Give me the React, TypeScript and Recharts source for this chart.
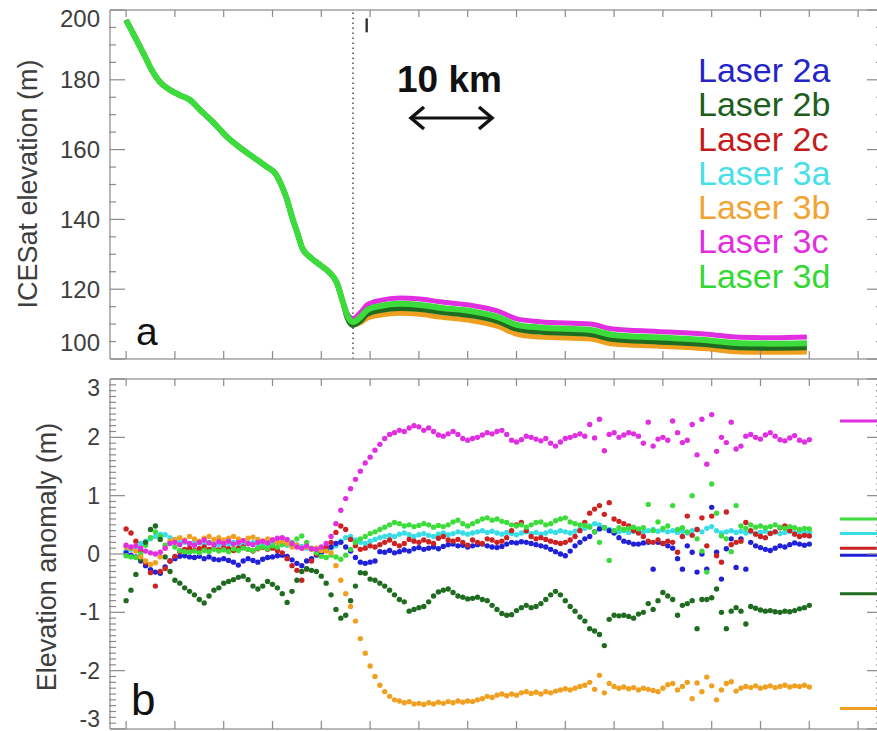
import React from 'react';
import {
  ComposedChart,
  Line,
  XAxis,
  YAxis,
  ReferenceLine,
  ScatterChart,
  Scatter,
  Legend,
} from 'recharts';

const FONT = '"Liberation Sans", Arial, Helvetica, sans-serif';

// ---------- series meta ----------
const laserNames = ['Laser 2a', 'Laser 2b', 'Laser 2c', 'Laser 3a', 'Laser 3b', 'Laser 3c', 'Laser 3d'];
const laserKeys = ['l2a', 'l2b', 'l2c', 'l3a', 'l3b', 'l3c', 'l3d'];
const laserColors = ['#2020d8', '#1f6b1f', '#cc2222', '#38dde6', '#f0a020', '#e02ee0', '#3cdc3c'];
const legendColors = ['#2424c8', '#1d5e1d', '#c41c1c', '#48e0e8', '#f0a434', '#e02ee0', '#34d834'];

// ---------- axes ----------
const X_DOMAIN: [number, number] = [-3.3, 154.9];
const xTicks = [0, 10, 20, 30, 40, 50, 60, 70, 80, 90, 100, 110, 120, 130, 140, 150];
const elevTicks = [100, 120, 140, 160, 180, 200];
const elevMinorTicks = [105, 110, 115, 125, 130, 135, 145, 150, 155, 165, 170, 175, 185, 190, 195];
const anomTicks = [-3, -2, -1, 0, 1, 2, 3];
const anomMinorTicks = Array.from({ length: 61 }, (_, i) => (i - 30) / 10).filter(
  (v) => Math.abs(v - Math.round(v)) > 1e-6
);

// ---------- panel a: ICESat elevation profile (along-track sample index) ----------
const profileX = [
  0, 1.4, 3.5, 5.5, 6.9, 9.0, 11.0, 13.1, 15.2, 17.8, 20.7, 23.4, 26.0, 28.9, 30.5, 32.0, 33.0, 34.0,
  35.1, 36.1, 37.7, 39.8, 41.8, 43.2, 44.3, 45.3, 46.5, 48.0, 49.4, 52.1, 56.1, 60.2, 64.3, 71.1, 76.0,
  80.1, 84.8, 95.1, 99.8, 108.8, 119.1, 125.8, 132.6, 139.5,
];
const upperProfile = [
  197.1, 193.4, 187.7, 182.2, 179.4, 177.1, 175.6, 174.2, 171.3, 167.9, 163.6, 160.5, 157.9, 155.0,
  153.3, 149.3, 145.6, 140.7, 136.1, 131.8, 129.2, 126.9, 124.6, 121.8, 116.9,
];
const elev2a = [...upperProfile, 112.4, 110.4, 111.5, 113.5, 114.8, 115.3, 115.0, 114.2, 113.1, 111.6, 109.3, 108.5, 107.9, 106.4, 105.7, 104.9, 104.0, 103.9, 104.1];
const elev2b = [...upperProfile, 111.8, 109.6, 110.8, 112.8, 113.9, 114.5, 114.2, 113.4, 112.3, 110.8, 108.5, 107.7, 107.0, 105.6, 104.9, 104.1, 103.2, 103.1, 103.2];
const elev2c = [...upperProfile, 112.7, 110.8, 111.7, 113.6, 114.9, 115.5, 115.2, 114.4, 113.3, 111.8, 109.5, 108.7, 108.0, 106.6, 105.9, 105.1, 104.2, 104.1, 104.2];
const elev3a = [...upperProfile, 112.5, 110.5, 111.9, 113.8, 115.0, 115.6, 115.3, 114.5, 113.4, 111.9, 109.6, 108.8, 108.1, 106.7, 106.0, 105.2, 104.3, 104.2, 104.3];
const elev3b = [...upperProfile, 112.3, 109.9, 110.4, 111.7, 112.6, 113.1, 112.8, 112.0, 110.9, 109.4, 107.1, 106.3, 105.7, 104.3, 103.7, 102.9, 102.0, 101.9, 102.0];
const elev3c = [...upperProfile, 113.0, 111.6, 113.3, 115.5, 116.8, 117.5, 117.2, 116.4, 115.3, 113.8, 111.5, 110.7, 110.0, 108.6, 107.9, 107.1, 106.2, 106.1, 106.3];
const elev3d = [...upperProfile, 112.6, 110.6, 112.0, 114.0, 115.2, 115.8, 115.5, 114.7, 113.6, 112.1, 109.8, 109.0, 108.3, 106.9, 106.2, 105.4, 104.5, 104.4, 104.5];

// ---------- panel b: elevation anomaly per sample ----------
const anom2a = [
  0.02, -0.02, -0.05, -0.12, -0.20, -0.27, -0.31, -0.33, -0.22, -0.12,
  -0.08, -0.04, -0.03, -0.05, -0.06, -0.04, -0.08, -0.05, -0.09, -0.10,
  -0.08, -0.11, -0.14, -0.19, -0.12, -0.08, -0.11, -0.14, -0.09, -0.06,
  -0.05, -0.03, -0.02, -0.04, -0.10, -0.16, -0.20, -0.12, -0.08, -0.02,
  0.02, 0.06, 0.12, 0.18, 0.20, 0.12, 0.05, -0.06, -0.14, -0.16,
  -0.14, -0.12, 0.04, 0.03, 0.06, 0.02, 0.04, 0.07, 0.05, 0.09,
  0.11, 0.08, 0.10, 0.12, 0.09, 0.13, 0.16, 0.17, 0.14, 0.15,
  0.12, 0.14, 0.16, 0.17, 0.14, 0.12, 0.11, 0.13, 0.17, 0.20,
  0.19, 0.21, 0.20, 0.18, 0.16, 0.14, 0.12, 0.08, 0.04, 0.00,
  -0.03, 0.05, 0.14, 0.20, 0.26, 0.30, 0.38, 0.43, 0.45, 0.40,
  0.36, 0.28, 0.22, 0.20, 0.17, 0.17, 0.19, 0.20, -0.26, 0.20,
  0.18, 0.14, 0.10, -0.08, -0.26, 0.14, 0.03, -0.31, 0.00, -0.26,
  0.80, 0.03, -0.43, 0.09, 0.26, -0.23, 0.26, -0.26, 0.20, 0.14,
  0.11, 0.08, 0.06, 0.10, 0.14, 0.12, 0.16, 0.19, 0.17, 0.15, 0.17,
];
const anom2b = [
  -0.80, -0.62, -0.35, -0.10, 0.20, 0.42, 0.48, 0.25, -0.05, -0.30,
  -0.45, -0.50, -0.58, -0.64, -0.70, -0.78, -0.84, -0.72, -0.62, -0.58,
  -0.50, -0.47, -0.44, -0.40, -0.38, -0.44, -0.55, -0.60, -0.55, -0.47,
  -0.52, -0.58, -0.68, -0.83, -0.64, -0.45, -0.30, -0.25, -0.28, -0.30,
  -0.38, -0.50, -0.70, -0.95, -1.10, -1.05, -0.80, -0.55, -0.32, -0.33,
  -0.43, -0.45, -0.50, -0.55, -0.62, -0.70, -0.78, -0.82, -0.98, -0.95,
  -0.92, -0.90, -0.82, -0.72, -0.65, -0.62, -0.60, -0.66, -0.72, -0.74,
  -0.77, -0.76, -0.74, -0.78, -0.80, -0.88, -0.95, -1.02, -1.05, -1.04,
  -0.97, -0.92, -0.88, -0.92, -0.90, -0.85, -0.78, -0.70, -0.64, -0.70,
  -0.80, -0.90, -0.98, -1.08, -1.15, -1.28, -1.32, -1.38, -1.57, -1.12,
  -1.05, -1.06, -1.05, -1.07, -1.10, -1.03, -1.00, -0.85, -0.95, -0.80,
  -0.66, -0.72, -0.78, -1.05, -0.88, -0.85, -0.80, -1.28, -0.78, -0.78,
  -0.75, -0.60, -1.00, -1.28, -0.98, -0.92, -0.98, -1.20, -0.90, -0.93,
  -0.96, -0.98, -0.97, -0.99, -1.00, -0.98, -0.99, -0.97, -0.94, -0.92, -0.88,
];
const anom2c = [
  0.43, 0.36, 0.22, 0.05, -0.15, -0.32, -0.55, -0.30, -0.25, -0.12,
  -0.04, 0.04, 0.08, 0.10, 0.06, 0.09, 0.12, 0.08, 0.10, 0.07,
  0.11, 0.09, 0.06, 0.10, 0.12, 0.08, 0.05, 0.09, 0.11, 0.08,
  0.10, 0.06, 0.02, -0.08, -0.20, -0.28, -0.45, -0.26, -0.12, 0.00,
  0.08, 0.12, 0.20, 0.37, 0.48, 0.42, 0.25, 0.14, 0.08, 0.10,
  0.14, 0.12, 0.16, 0.20, 0.24, 0.18, 0.14, 0.18, 0.25, 0.22,
  0.20, 0.24, 0.21, 0.18, 0.27, 0.30, 0.24, 0.22, 0.25, 0.20,
  0.15, 0.24, 0.20, 0.18, 0.26, 0.24, 0.20, 0.22, 0.28, 0.40,
  0.50, 0.54, 0.40, 0.30, 0.26, 0.28, 0.25, 0.22, 0.20, 0.18,
  0.20, 0.24, 0.30, 0.40, 0.54, 0.70, 0.77, 0.83, 0.68, 0.88,
  0.60, 0.56, 0.52, 0.48, 0.40, 0.36, 0.30, 0.22, 0.20, 0.24,
  0.18, 0.22, 0.20, 0.03, 0.30, 0.65, 0.32, 0.42, 0.62, 0.14,
  0.65, -0.03, -0.14, 0.72, 0.16, 0.20, 0.22, 0.54, 0.40, 0.34,
  0.30, 0.28, 0.35, 0.38, 0.45, 0.48, 0.40, 0.34, 0.30, 0.32, 0.31,
];
const anom3a = [
  0.05, 0.08, 0.12, 0.18, 0.22, 0.26, 0.30, 0.34, 0.33, 0.28,
  0.24, 0.22, 0.20, 0.18, 0.21, 0.19, 0.17, 0.20, 0.18, 0.16,
  0.19, 0.17, 0.20, 0.18, 0.15, 0.18, 0.20, 0.17, 0.19, 0.16,
  0.18, 0.20, 0.17, 0.15, 0.14, 0.16, 0.13, 0.10, 0.08, 0.06,
  0.05, 0.08, 0.10, 0.14, 0.22, 0.28, 0.30, 0.24, 0.20, 0.18,
  0.22, 0.25, 0.28, 0.30, 0.32, 0.30, 0.34, 0.36, 0.33, 0.30,
  0.33, 0.35, 0.32, 0.30, 0.34, 0.36, 0.33, 0.35, 0.38, 0.36,
  0.34, 0.36, 0.38, 0.40, 0.37, 0.39, 0.36, 0.34, 0.37, 0.35,
  0.33, 0.36, 0.38, 0.35, 0.37, 0.34, 0.36, 0.39, 0.37, 0.40,
  0.38, 0.36, 0.39, 0.42, 0.44, 0.48, 0.52, 0.50, 0.45, 0.42,
  0.40, 0.38, 0.40, 0.37, 0.39, 0.41, 0.38, 0.40, 0.42, 0.39,
  0.41, 0.38, 0.40, 0.37, 0.39, 0.36, 0.40, 0.42, 0.38, 0.44,
  0.47, 0.40, 0.36, 0.38, 0.40, 0.37, 0.39, 0.36, 0.38, 0.35,
  0.37, 0.39, 0.36, 0.38, 0.35, 0.37, 0.39, 0.36, 0.38, 0.37, 0.37,
];
const anom3b = [
  0.12, 0.10, 0.05, -0.05, -0.12, -0.18, -0.15, -0.05, 0.10, 0.22,
  0.25, 0.28, 0.24, 0.30, 0.26, 0.22, 0.27, 0.30, 0.25, 0.28,
  0.24, 0.27, 0.30, 0.26, 0.23, 0.27, 0.29, 0.25, 0.22, 0.26,
  0.24, 0.20, 0.22, 0.18, 0.12, 0.15, 0.10, 0.12, 0.08, 0.10,
  0.06, 0.05, 0.02, -0.20, -0.45, -0.68, -0.90, -1.15, -1.45, -1.70,
  -1.92, -2.10, -2.25, -2.36, -2.44, -2.50, -2.52, -2.55, -2.53, -2.57,
  -2.56, -2.58, -2.55, -2.57, -2.54, -2.56, -2.53, -2.55, -2.52, -2.54,
  -2.52, -2.53, -2.50, -2.48, -2.44, -2.46, -2.42, -2.40, -2.43, -2.40,
  -2.42, -2.38, -2.36, -2.39, -2.37, -2.40, -2.36, -2.38, -2.35, -2.33,
  -2.31, -2.33, -2.30, -2.27, -2.25, -2.20, -2.32, -2.08, -2.38, -2.22,
  -2.27, -2.30, -2.28, -2.31, -2.29, -2.33, -2.30, -2.32, -2.34, -2.36,
  -2.30, -2.24, -2.22, -2.33, -2.27, -2.20, -2.48, -2.21, -2.36, -2.11,
  -2.26, -2.50, -2.33, -2.22, -2.19, -2.35, -2.30, -2.27, -2.29, -2.26,
  -2.30, -2.28, -2.26, -2.29, -2.27, -2.25, -2.28, -2.26, -2.27, -2.25, -2.28,
];
const anom3c = [
  0.15, 0.12, 0.14, 0.10, 0.05, 0.02, 0.00, 0.03, 0.10, 0.18,
  0.20, 0.16, 0.22, 0.18, 0.15, 0.20, 0.24, 0.19, 0.16, 0.21,
  0.18, 0.22, 0.17, 0.20, 0.23, 0.18, 0.16, 0.20, 0.22, 0.19,
  0.24, 0.27, 0.28, 0.25, 0.18, 0.12, 0.10, 0.14, 0.09, 0.08,
  0.12, 0.18, 0.30, 0.52, 0.75, 0.95, 1.12, 1.28, 1.42, 1.56,
  1.66, 1.78, 1.88, 1.98, 2.05, 2.08, 2.12, 2.10, 2.16, 2.20,
  2.18, 2.12, 2.16, 2.10, 2.04, 2.02, 2.06, 2.10, 2.05, 1.98,
  1.95, 1.98, 2.00, 2.04, 2.08, 2.06, 2.10, 2.12, 2.05, 1.95,
  1.92, 1.96, 2.02, 2.00, 1.97, 1.94, 1.98, 1.90, 1.85, 1.92,
  1.98, 2.00, 2.03, 2.06, 2.02, 2.22, 1.99, 2.31, 1.77, 2.05,
  2.08, 2.00, 2.04, 2.08, 2.06, 2.02, 1.90, 2.26, 1.85, 1.97,
  2.00, 1.95, 2.28, 2.08, 1.91, 1.95, 2.22, 1.70, 2.31, 1.54,
  2.39, 1.76, 2.00, 1.91, 2.26, 1.80, 1.85, 2.02, 2.05, 2.00,
  1.97, 2.04, 2.08, 2.02, 1.96, 1.94, 1.99, 2.03, 1.95, 1.92, 1.96,
];
const anom3d = [
  -0.03, -0.05, -0.06, 0.00, 0.15, 0.28, 0.38, 0.30, 0.15, 0.20,
  0.12, 0.06, 0.04, 0.03, 0.05, 0.02, 0.06, 0.04, 0.08, 0.05,
  0.07, 0.04, 0.09, 0.06, 0.10, 0.08, 0.06, 0.10, 0.12, 0.09,
  0.14, 0.12, 0.16, 0.18, 0.20, 0.26, 0.31, 0.20, 0.10, 0.02,
  -0.04, -0.06, -0.02, -0.05, -0.09, -0.02, 0.08, 0.20, 0.26, 0.30,
  0.35, 0.38, 0.42, 0.46, 0.50, 0.54, 0.52, 0.48, 0.50, 0.47,
  0.49, 0.52, 0.50, 0.46, 0.49, 0.47, 0.50, 0.55, 0.58, 0.52,
  0.48, 0.52, 0.56, 0.60, 0.62, 0.58, 0.60, 0.56, 0.54, 0.50,
  0.48, 0.50, 0.46, 0.50, 0.54, 0.55, 0.50, 0.52, 0.57, 0.60,
  0.62, 0.55, 0.52, 0.50, 0.49, 0.46, 0.38, 0.20, 0.45, -0.11,
  0.40, 0.45, 0.42, 0.44, 0.46, 0.43, 0.45, 0.85, 0.40, 0.55,
  0.44, 0.48, 0.83, 0.42, 0.45, 0.38, 1.00, 0.26, 0.05, -0.31,
  1.20, 0.70, 0.31, 0.26, 0.04, 0.83, 0.48, 0.44, 0.50, 0.46,
  0.48, 0.45, 0.47, 0.50, 0.46, 0.44, 0.47, 0.45, 0.42, 0.44, 0.43,
];
// mean anomaly level bars at the right edge (order of laserKeys)
const meanLevels = [-0.02, -0.68, 0.10, 0.35, -2.65, 2.28, 0.60];
const meanBarStart = 146.3;
const meanBarEnd = 154.9;

const elevSeries = [elev2a, elev2b, elev2c, elev3a, elev3b, elev3c, elev3d];
const anomSeries = [anom2a, anom2b, anom2c, anom3a, anom3b, anom3c, anom3d];

const topRows = profileX.map((x, i) => {
  const row: Record<string, number> = { x };
  laserKeys.forEach((k, j) => {
    row[k] = elevSeries[j][i];
  });
  return row;
});

// draw order (last on top)
const topOrder = [0, 2, 3, 4, 5, 1, 6];
const bottomOrder = [3, 0, 2, 6, 1, 4, 5];

// ---------- tick renderers ----------
const FRAME = '#a0a0a0';
const TICK = '#8a8a8a';
const LABEL = '#3e3e3e';

const yTick =
  (len: number, dir: 1 | -1, fontSize?: number, shift?: Record<string, number>) =>
  (p: any) => {
    const { x, y, payload } = p;
    return (
      <g>
        <line x1={x} y1={y} x2={x + dir * len} y2={y} stroke={TICK} strokeWidth={1.2} />
        {fontSize ? (
          <text
            x={x - 10}
            y={y + ((shift && shift[String(payload.value)]) || 0)}
            textAnchor="end"
            dominantBaseline="central"
            fontSize={fontSize}
            fontFamily={FONT}
            fill={LABEL}
          >
            {String(payload.value)}
          </text>
        ) : null}
      </g>
    );
  };

const xTick = (len: number, dir: 1 | -1) => (p: any) => {
  const { x, y } = p;
  return <line x1={x} y1={y} x2={x} y2={y + dir * len} stroke={TICK} strokeWidth={1.2} />;
};

const axisLine = { stroke: FRAME, strokeWidth: 1.5 };

const dotShape = (color: string) => (p: any) =>
  p.cx == null || p.cy == null ? <g /> : <circle cx={p.cx} cy={p.cy} r={2.7} fill={color} />;

const LegendContent = () => (
  <div style={{ fontFamily: FONT }}>
    {laserNames.map((n, i) => (
      <div
        key={n}
        style={{ color: legendColors[i], fontSize: 34, lineHeight: '34.3px', whiteSpace: 'nowrap' }}
      >
        {n}
      </div>
    ))}
  </div>
);

const commonAxes = (
  yDomain: [number, number],
  major: number[],
  minor: number[],
  fontSize: number,
  shift: Record<string, number>,
  withDataKey: boolean
) => [
  <XAxis
    key="xb"
    dataKey="x"
    type="number"
    domain={X_DOMAIN}
    ticks={xTicks}
    interval={0}
    allowDataOverflow
    height={1}
    tickSize={0}
    tickMargin={0}
    tickLine={false}
    axisLine={axisLine}
    tick={xTick(8, -1)}
  />,
  <XAxis
    key="xt"
    xAxisId="top"
    orientation="top"
    dataKey="x"
    type="number"
    domain={X_DOMAIN}
    ticks={xTicks}
    interval={0}
    allowDataOverflow
    height={1}
    tickSize={0}
    tickMargin={0}
    tickLine={false}
    axisLine={axisLine}
    tick={xTick(7, 1)}
  />,
  <YAxis
    key="yl"
    {...(withDataKey ? { dataKey: 'y' } : {})}
    type="number"
    domain={yDomain}
    ticks={major}
    interval={0}
    allowDataOverflow
    width={1}
    tickSize={0}
    tickMargin={0}
    tickLine={false}
    axisLine={axisLine}
    tick={yTick(15, 1, fontSize, shift)}
  />,
  <YAxis
    key="ylm"
    yAxisId="minor"
    type="number"
    domain={yDomain}
    ticks={minor}
    interval={0}
    allowDataOverflow
    width={1}
    tickSize={0}
    tickMargin={0}
    tickLine={false}
    axisLine={false}
    tick={yTick(7, 1)}
  />,
  <YAxis
    key="yr"
    yAxisId="right"
    orientation="right"
    type="number"
    domain={yDomain}
    ticks={major}
    interval={0}
    allowDataOverflow
    width={1}
    tickSize={0}
    tickMargin={0}
    tickLine={false}
    axisLine={axisLine}
    tick={yTick(15, -1)}
  />,
  <YAxis
    key="yrm"
    yAxisId="rightMinor"
    orientation="right"
    type="number"
    domain={yDomain}
    ticks={minor}
    interval={0}
    allowDataOverflow
    width={1}
    tickSize={0}
    tickMargin={0}
    tickLine={false}
    axisLine={false}
    tick={yTick(7, -1)}
  />,
];

export default function App() {
  return (
    <div
      style={{
        position: 'absolute',
        left: 0,
        top: 0,
        width: 877,
        height: 731,
        overflow: 'hidden',
        background: '#ffffff',
        fontFamily: FONT,
      }}
    >
      <div style={{ position: 'absolute', left: 0, top: 0 }}>
        <ComposedChart
          width={900}
          height={370}
          data={topRows}
          margin={{ top: 9, right: 16, bottom: 10, left: 108 }}
        >
          {commonAxes([100, 200], elevTicks, elevMinorTicks, 24, { '200': 8, '100': -17 }, false)}
          <ReferenceLine x={46.5} stroke="#555" strokeWidth={1.6} strokeDasharray="1.6 3.4" />
          <ReferenceLine
            segment={[
              { x: 49.3, y: 197.6 },
              { x: 49.3, y: 193.6 },
            ]}
            stroke="#333"
            strokeWidth={2.4}
          />
          {topOrder.map((j) => (
            <Line
              key={laserKeys[j]}
              dataKey={laserKeys[j]}
              name={laserNames[j]}
              type="monotone"
              stroke={laserColors[j]}
              strokeWidth={j === 6 ? 6 : 5}
              dot={false}
              activeDot={false}
              isAnimationActive={false}
            />
          ))}
          <Legend
            layout="vertical"
            align="center"
            verticalAlign="middle"
            wrapperStyle={{ left: 698, top: 53, width: 'auto', height: 'auto' }}
            content={<LegendContent />}
          />
        </ComposedChart>
      </div>

      <div style={{ position: 'absolute', left: 0, top: 370 }}>
        <ScatterChart width={900} height={370} margin={{ top: 8, right: 16, bottom: 10, left: 108 }}>
          {commonAxes([-3, 3], anomTicks, anomMinorTicks, 23, { '3': 9, '-3': -10 }, true)}
          {bottomOrder.map((j) => (
            <Scatter
              key={laserKeys[j]}
              name={laserNames[j]}
              data={anomSeries[j].map((v, i) => ({ x: i, y: v }))}
              fill={laserColors[j]}
              shape={dotShape(laserColors[j])}
              isAnimationActive={false}
            />
          ))}
          {laserKeys.map((k, j) => (
            <ReferenceLine
              key={'m' + k}
              segment={[
                { x: meanBarStart, y: meanLevels[j] },
                { x: meanBarEnd, y: meanLevels[j] },
              ]}
              stroke={laserColors[j]}
              strokeWidth={3}
            />
          ))}
        </ScatterChart>
      </div>

      <svg
        width={877}
        height={731}
        style={{ position: 'absolute', left: 0, top: 0, pointerEvents: 'none' }}
        fontFamily={FONT}
      >
        <text transform="translate(37,184) rotate(-90)" textAnchor="middle" fontSize={27} fill={LABEL}>
          ICESat elevation (m)
        </text>
        <text transform="translate(56,557) rotate(-90)" textAnchor="middle" fontSize={27} fill={LABEL}>
          Elevation anomaly (m)
        </text>
        <text x={136} y={345} fontSize={39} fill="#111">
          a
        </text>
        <text x={131} y={715} fontSize={44} fill="#111">
          b
        </text>
        <text x={397} y={92} fontSize={37} fontWeight="bold" fill="#111">
          10 km
        </text>
        <line x1={413} y1={118} x2={490} y2={118} stroke="#111" strokeWidth={3} />
        <polyline points="424,107 411,118 424,129" fill="none" stroke="#111" strokeWidth={3.5} />
        <polyline points="479,107 492,118 479,129" fill="none" stroke="#111" strokeWidth={3.5} />
      </svg>
    </div>
  );
}
